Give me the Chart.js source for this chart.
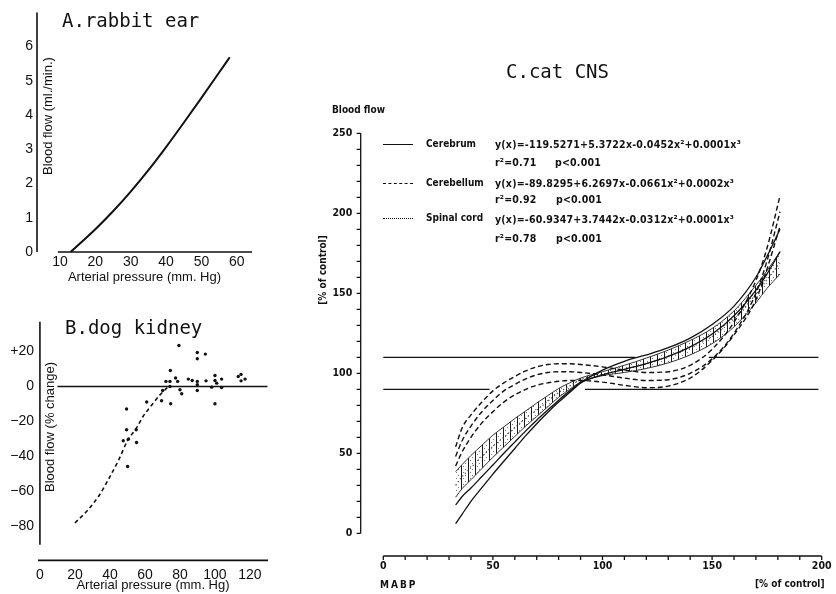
<!DOCTYPE html>
<html lang="en">
<head>
<meta charset="UTF-8">
<title>Autoregulation of blood flow</title>
<script src="https://cdn.jsdelivr.net/npm/chart.js"></script>
<style>
  body { margin: 0; background: #fff; }
  .fig { position: relative; width: 836px; height: 594px; overflow: hidden; color: #111; }
  canvas { position: absolute; }
  .lbl { position: absolute; white-space: nowrap; line-height: 1; transform: translateY(-50%); }
  .mono { font-family: 'DejaVu Sans Mono', monospace; font-size: 19px; }
  .ytitle { position: absolute; white-space: nowrap; line-height: 1; font: 13px 'Liberation Sans', Arial, sans-serif;
            transform: translate(-50%, -50%) rotate(-90deg); }
  .cns { font-family: 'DejaVu Sans Condensed', 'DejaVu Sans', sans-serif; font-weight: bold; font-size: 10px; }
  .eq { font-size: 10.5px; letter-spacing: 0.2px; }
  .key { position: absolute; width: 30px; height: 0; }
</style>
</head>
<body>
<div class="fig">
  <canvas id="rabbit" width="290" height="290" style="left:0;top:0"></canvas>
  <canvas id="kidney" width="290" height="294" style="left:0;top:300px"></canvas>
  <canvas id="cns" width="546" height="594" style="left:290px;top:0"></canvas>

  <!-- panel titles -->
  <div class="lbl mono" style="left:62px;top:20px">A.rabbit ear</div>
  <div class="lbl mono" style="left:65px;top:327px">B.dog kidney</div>
  <div class="lbl mono" style="left:506px;top:71px">C.cat CNS</div>

  <!-- y titles of A and B sit inside the plot -->
  <div class="ytitle" style="left:47px;top:116px">Blood flow (ml./min.)</div>
  <div class="ytitle" style="left:49px;top:427px">Blood flow (% change)</div>

  <!-- C axis labels -->
  <div class="lbl cns" style="left:332px;top:110px">Blood flow</div>
  <div class="ytitle cns" style="left:322px;top:270px;font-size:10px">[% of control]</div>
  <div class="lbl cns" style="left:380px;top:585px;letter-spacing:2px">MABP</div>
  <div class="lbl cns" style="left:755px;top:584px">[% of control]</div>

  <!-- C legend -->
  <div class="key" style="left:383px;top:144px;border-top:1.5px solid #111"></div>
  <div class="lbl cns" style="left:426px;top:144px">Cerebrum</div>
  <div class="lbl cns eq" style="left:495px;top:144px">y(x)=-119.5271+5.3722x-0.0452x²+0.0001x³</div>
  <div class="lbl cns eq" style="left:495px;top:162px">r²=0.71</div>
  <div class="lbl cns eq" style="left:555px;top:162px">p&lt;0.001</div>

  <div class="key" style="left:383px;top:183px;border-top:1.5px dashed #111"></div>
  <div class="lbl cns" style="left:426px;top:183px">Cerebellum</div>
  <div class="lbl cns eq" style="left:495px;top:183px">y(x)=-89.8295+6.2697x-0.0661x²+0.0002x³</div>
  <div class="lbl cns eq" style="left:495px;top:199px">r²=0.92</div>
  <div class="lbl cns eq" style="left:556px;top:199px">p&lt;0.001</div>

  <div class="key" style="left:383px;top:218px;border-top:1.5px dotted #111"></div>
  <div class="lbl cns" style="left:426px;top:218px">Spinal cord</div>
  <div class="lbl cns eq" style="left:495px;top:219px">y(x)=-60.9347+3.7442x-0.0312x²+0.0001x³</div>
  <div class="lbl cns eq" style="left:495px;top:238px">r²=0.78</div>
  <div class="lbl cns eq" style="left:556px;top:238px">p&lt;0.001</div>
</div>

<script>
// A. rabbit ear
const rabbitPressure = [13, 20, 25, 30, 35, 40, 45, 50, 55, 58];
const rabbitFlow = [0, 0.665, 1.19, 1.765, 2.39, 3.065, 3.775, 4.505, 5.245, 5.69];
const rabbitXTicks = [10, 20, 30, 40, 50, 60];
const rabbitYTicks = [0, 1, 2, 3, 4, 5, 6];

// B. dog kidney
const kidneyPressure = [47.6, 49.5, 49.5, 50.1, 50.5, 55.0, 55.2, 61, 69.5, 70.1, 72, 74.3, 74.3, 74.5, 74.7, 77.5, 78.7, 79.4, 80, 81,
                        84.8, 87, 89.9, 89.9, 89.9, 89.9, 89.9, 94.5, 94.9, 98.1, 100, 100, 100, 101, 103.8, 103.8, 113.3, 114.9, 114.9, 117.2];
const kidneyChange = [-31, -12.9, -24.7, -45.7, -30.1, -24.7, -32, -8.9, -8.2, -2.3, 2.9, 2.9, 0, 9.1, -9.9, 4.8, 2.9, 23.4, -1.9, -4.2,
                      4.2, 3.4, 19.4, 15.8, 2.9, 1, -2.3, 18.5, 3.2, -0.4, 6.3, 3.4, -9.9, 1.9, 4.2, -0.6, 5.7, 6.9, 3.2, 4.2];
const kidneyFitPressure = [20, 27, 34, 40, 45, 50, 55, 59, 64, 68.6, 71.4, 73.5];
const kidneyFitChange = [-78, -71, -62, -51.5, -42, -31, -24, -17, -10.5, -4.8, -2, 0];
const kidneyZeroLine = [10, 130];
const kidneyXTicks = [0, 20, 40, 60, 80, 100, 120];
const kidneyYTicks = [-80, -60, -40, -20, 0, 20];

// C. cat CNS (regression curves with confidence limits)
const cnsMabp = [33, 36, 40, 45, 50, 55, 60, 65, 70, 75, 80, 85, 90, 100, 110, 120, 130, 140, 150, 160, 170, 175, 181];
const cerebrumSteep = [6, 12, 20, 28.5, 37, 45, 53, 61, 68.5, 75.5, 82, 88, 94, 102, 107.5, 111.5, 116, 122, 130.5, 142, 160, 173, 190];
const cerebrumFlat = [17.7, 23, 28.3, 35.5, 42.7, 50, 57, 64, 70.7, 77, 83.2, 89, 94, 99, 102.5, 106, 110.5, 116.5, 124.5, 136, 152, 162, 176];
const cerebellumHigh = [54, 66, 74, 82, 89, 94, 98, 101.5, 104, 105.5, 106, 106, 105.5, 104, 102, 100.5, 101, 105, 115, 132, 158, 178, 211];
const cerebellumMid = [48, 58, 67, 76, 83, 89, 93, 96.5, 99, 100.5, 101, 101, 100.5, 99, 97, 95.5, 96, 100, 109, 125, 150, 170, 201];
const cerebellumLow = [42, 51, 60, 69, 76, 82, 86.5, 90, 92.5, 94, 95, 95.5, 95.5, 94.5, 92.5, 91, 92, 97, 108, 124, 146, 165, 192];
const spinalHigh = [38.5, 43, 48.6, 55, 61.3, 66.5, 71.7, 76.5, 81.4, 86, 90.5, 94, 97, 101, 105, 109.5, 114.5, 120.5, 128, 139, 155, 164, 176];
const spinalMid = [30, 35.5, 41, 48, 54.5, 60, 66, 72, 77, 82.5, 88, 92, 96, 99.5, 102.5, 106, 110.5, 116, 123, 134, 149.5, 158.5, 169];
const spinalLow = [22.5, 28, 33.5, 40.5, 47.5, 54, 60.5, 67, 73, 79, 85, 90, 94.5, 98.5, 100.5, 103, 106.5, 111.5, 118.5, 129, 144, 153, 162];
const upperLimitSpans = [[0, 115], [148.5, 198.5]];   // 110 % line, hidden where the curves pass
const lowerLimitSpans = [[0, 48.5], [92, 198.5]];     // 90 % line
const cnsXTicks = [0, 50, 100, 150, 200];
const cnsYTicks = [0, 50, 100, 150, 200, 250];
const cnsXMarks = Array.from({ length: 21 }, (_, i) => i * 10);
const cnsYMarks = Array.from({ length: 26 }, (_, i) => i * 10);

Chart.defaults.animation = false;
Chart.defaults.color = '#111';
Chart.defaults.plugins.legend.display = false;
Chart.defaults.plugins.tooltip.enabled = false;

const tickFontAB = { family: "'Liberation Sans', Arial, sans-serif", size: 14 };
const titleFontAB = { family: "'Liberation Sans', Arial, sans-serif", size: 13 };
const tickFontC = { family: "'DejaVu Sans Condensed', 'DejaVu Sans', sans-serif", size: 10.5, weight: 'bold' };
const ink = '#111';

// axis lines that don't touch the plot edges, drawn from scale values
const axisLines = {
  id: 'axisLines',
  beforeDatasetsDraw(chart, args, opts) {
    const { ctx, scales } = chart;
    ctx.save();
    ctx.strokeStyle = ink;
    ctx.lineWidth = opts.width || 1.5;
    ctx.beginPath();
    (opts.lines || []).forEach(l => {
      const along = scales[l.axis], across = scales[l.axis === 'x' ? 'y' : 'x'];
      const c = across.getPixelForValue(l.at);
      const a = along.getPixelForValue(l.from), b = along.getPixelForValue(l.to);
      if (l.axis === 'x') { ctx.moveTo(a, c); ctx.lineTo(b, c); }
      else { ctx.moveTo(c, a); ctx.lineTo(c, b); }
      (l.marks || []).forEach(v => {
        const p = along.getPixelForValue(v);
        if (l.axis === 'x') { ctx.moveTo(p, c); ctx.lineTo(p, c + l.len); }
        else { ctx.moveTo(c, p); ctx.lineTo(c + l.len, p); }
      });
    });
    ctx.stroke();
    ctx.restore();
  }
};

function axis(min, max, size, ticks, font, pad, callback, title) {
  const s = {
    type: 'linear', min, max,
    afterFit: sc => { if (sc.isHorizontal()) sc.height = size; else sc.width = size; },
    afterBuildTicks: sc => { sc.ticks = ticks.map(v => ({ value: v })); },
    grid: { display: false, drawTicks: false },
    border: { display: false },
    ticks: { font, color: ink, padding: pad, autoSkip: false, maxRotation: 0 }
  };
  if (callback) s.ticks.callback = callback;
  if (title) s.title = title;
  return s;
}

const pts = (xs, ys) => xs.map((x, i) => ({ x, y: ys[i] }));
const curve = (xs, ys, extra) => Object.assign({
  data: pts(xs, ys), showLine: true, borderColor: ink, borderWidth: 1.3,
  pointRadius: 0, cubicInterpolationMode: 'monotone', fill: false
}, extra);

// A. rabbit ear
new Chart(document.getElementById('rabbit'), {
  type: 'scatter',
  data: { datasets: [curve(rabbitPressure, rabbitFlow, { borderWidth: 2 })] },
  options: {
    responsive: false,
    layout: { padding: { top: 7, right: 38, left: 0, bottom: 0 } },
    scales: {
      x: axis(3.5, 64.3, 38, rabbitXTicks, tickFontAB, 2, null,
        { display: true, text: 'Arterial pressure (mm. Hg)', font: titleFontAB, color: ink, padding: { top: 0, bottom: 5 } }),
      y: axis(0, 7, 37, rabbitYTicks, tickFontAB, 4)
    },
    plugins: { axisLines: { width: 1.6, lines: [
      { axis: 'y', at: 3.5, from: 0, to: 7 },
      { axis: 'x', at: 0, from: 9.4, to: 64.3 }
    ] } }
  },
  plugins: [axisLines]
});

// B. dog kidney
new Chart(document.getElementById('kidney'), {
  type: 'scatter',
  data: { datasets: [
    { data: pts(kidneyPressure, kidneyChange), pointRadius: 1.7, pointBackgroundColor: ink, pointBorderWidth: 0 },
    curve(kidneyFitPressure, kidneyFitChange, { borderWidth: 1.6, borderDash: [4, 3] }),
    curve(kidneyZeroLine, [0, 0], { borderWidth: 1.5 })
  ] },
  options: {
    responsive: false,
    layout: { padding: { top: 21.7, right: 22, left: 0, bottom: 0 } },
    scales: {
      x: axis(-1.1, 130.3, 33.6, kidneyXTicks, tickFontAB, 6.2, null,
        { display: true, text: 'Arterial pressure (mm. Hg)', font: titleFontAB, color: ink, padding: { top: 0, bottom: 1 } }),
      y: axis(-99.4, 37, 38, kidneyYTicks, tickFontAB, 4,
        v => v > 0 ? '+' + v : v < 0 ? '\u2212' + Math.abs(v) : '0')
    },
    plugins: { axisLines: { width: 1.6, lines: [
      { axis: 'y', at: 0, from: -90.5, to: 37 },
      { axis: 'x', at: -99.4, from: -1.1, to: 130.3 }
    ] } }
  },
  plugins: [axisLines]
});

// C. cat CNS
function hatch() {
  const c = document.createElement('canvas');
  c.width = 7; c.height = 6;
  const g = c.getContext('2d');
  g.fillStyle = '#fff'; g.fillRect(0, 0, 7, 6);
  g.fillStyle = '#1a1a1a'; g.fillRect(3, 0, 1, 6);
  g.fillStyle = '#777'; g.fillRect(0, 1, 1, 1); g.fillRect(5, 4, 1, 1);
  return g.createPattern(c, 'repeat');
}

const limitLines = [];
upperLimitSpans.forEach(s => limitLines.push(curve(s, [110, 110], { order: 5 })));
lowerLimitSpans.forEach(s => limitLines.push(curve(s, [90, 90], { order: 5 })));

new Chart(document.getElementById('cns'), {
  type: 'scatter',
  data: { datasets: [
    curve(cnsMabp, cerebrumSteep),
    curve(cnsMabp, cerebrumFlat),
    curve(cnsMabp, cerebellumHigh, { borderDash: [5, 3], borderWidth: 1.4 }),
    curve(cnsMabp, cerebellumMid, { borderDash: [5, 3], borderWidth: 1.4 }),
    curve(cnsMabp, cerebellumLow, { borderDash: [5, 3], borderWidth: 1.4 }),
    curve(cnsMabp, spinalMid, { borderDash: [1.2, 2.5], borderWidth: 1.2, borderColor: '#444' }),
    curve(cnsMabp, spinalLow, { borderWidth: 1, borderColor: '#333' }),
    curve(cnsMabp, spinalHigh, { borderWidth: 1, borderColor: '#333', fill: '-1', backgroundColor: hatch() }),
    ...limitLines
  ] },
  options: {
    responsive: false,
    layout: { padding: { top: 125.28, right: 1.64, left: 0, bottom: 0 } },
    scales: {
      x: axis(-10.3, 205, 38, cnsXTicks, tickFontC, 4.4),
      y: axis(-14.2, 255, 70.7, cnsYTicks, tickFontC, 8.5)
    },
    plugins: { axisLines: { width: 1.3, lines: [
      { axis: 'y', at: -10.3, from: 0, to: 250, marks: cnsYMarks, len: -4 },
      { axis: 'x', at: -14.2, from: 0, to: 200, marks: cnsXMarks, len: 4 }
    ] } }
  },
  plugins: [axisLines]
});
</script>
</body>
</html>
